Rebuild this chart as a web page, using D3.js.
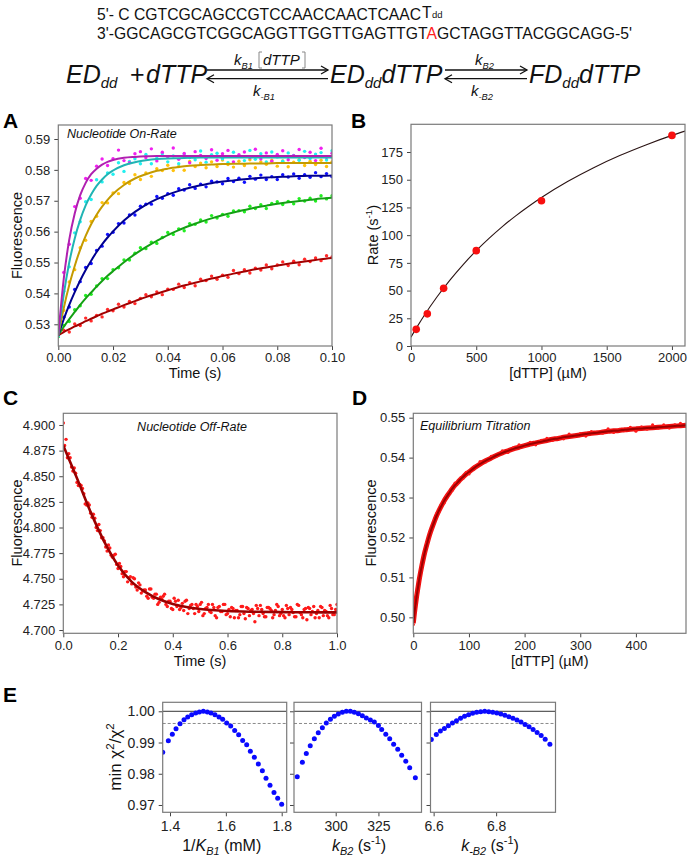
<!DOCTYPE html>
<html><head><meta charset="utf-8">
<script src="https://cdn.jsdelivr.net/npm/d3@7"></script>
<style>body{margin:0;background:#fff}svg{display:block}</style>
</head><body>
<svg id="fig" width="688" height="859"></svg>
<script>
// ================= DATA =================
// --- Panel A: nucleotide on-rate traces ---
const tA = [0,0.002,0.004,0.006,0.008,0.01,0.012,0.014,0.016,0.018,0.02,0.022,0.024,0.026,0.028,0.03,0.032,0.034,0.036,0.038,0.04,0.042,0.044,0.046,0.048,0.05,0.052,0.054,0.056,0.058,0.06,0.062,0.064,0.066,0.068,0.07,0.072,0.074,0.076,0.078,0.08,0.082,0.084,0.086,0.088,0.09,0.092,0.094,0.096,0.098,0.1];
const tAFit = [0,0.002,0.004,0.006,0.008,0.01,0.012,0.014,0.016,0.018,0.02,0.024,0.028,0.032,0.036,0.04,0.044,0.048,0.052,0.056,0.06,0.064,0.068,0.072,0.076,0.08,0.084,0.088,0.092,0.096,0.1];
const magentaPts = [0.5268,0.5468,0.5559,0.5681,0.5708,0.5772,0.5766,0.5812,0.5835,0.5814,0.5836,0.5864,0.5830,0.5823,0.5852,0.5859,0.5839,0.5868,0.5829,0.5857,0.5842,0.5871,0.5834,0.5853,0.5823,0.5859,0.5847,0.5837,0.5865,0.5831,0.5852,0.5863,0.5826,0.5849,0.5858,0.5839,0.5867,0.5835,0.5855,0.5828,0.5850,0.5862,0.5833,0.5846,0.5866,0.5840,0.5857,0.5830,0.5870,0.5841,0.5854];
const cyanPts = [0.5263,0.5407,0.5486,0.5596,0.5632,0.5697,0.5704,0.5768,0.5761,0.5790,0.5786,0.5823,0.5795,0.5827,0.5836,0.5820,0.5850,0.5820,0.5838,0.5852,0.5826,0.5845,0.5820,0.5851,0.5840,0.5833,0.5861,0.5825,0.5849,0.5854,0.5836,0.5823,0.5857,0.5845,0.5830,0.5863,0.5834,0.5852,0.5826,0.5858,0.5842,0.5828,0.5855,0.5847,0.5831,0.5860,0.5837,0.5851,0.5856,0.5832,0.5862];
const orangePts = [0.5266,0.5345,0.5437,0.5477,0.5548,0.5572,0.5633,0.5650,0.5694,0.5693,0.5725,0.5723,0.5759,0.5756,0.5784,0.5769,0.5790,0.5779,0.5804,0.5798,0.5815,0.5798,0.5811,0.5799,0.5827,0.5811,0.5822,0.5807,0.5826,0.5811,0.5832,0.5817,0.5809,0.5828,0.5814,0.5833,0.5807,0.5826,0.5818,0.5831,0.5812,0.5829,0.5810,0.5825,0.5833,0.5814,0.5828,0.5817,0.5831,0.5811,0.5826];
const bluePts = [0.5264,0.5323,0.5356,0.5413,0.5438,0.5484,0.5497,0.5539,0.5553,0.5591,0.5598,0.5626,0.5628,0.5654,0.5654,0.5682,0.5689,0.5689,0.5714,0.5708,0.5723,0.5718,0.5739,0.5735,0.5752,0.5740,0.5754,0.5745,0.5763,0.5761,0.5755,0.5772,0.5762,0.5773,0.5760,0.5779,0.5770,0.5783,0.5769,0.5778,0.5769,0.5784,0.5777,0.5787,0.5773,0.5784,0.5776,0.5791,0.5778,0.5788,0.5778];
const greenPts = [0.5260,0.5296,0.5309,0.5347,0.5360,0.5393,0.5397,0.5424,0.5448,0.5448,0.5477,0.5483,0.5508,0.5508,0.5530,0.5548,0.5545,0.5566,0.5562,0.5581,0.5597,0.5591,0.5609,0.5603,0.5626,0.5624,0.5638,0.5631,0.5652,0.5644,0.5656,0.5650,0.5667,0.5668,0.5664,0.5682,0.5675,0.5687,0.5675,0.5691,0.5697,0.5688,0.5698,0.5690,0.5707,0.5699,0.5708,0.5699,0.5716,0.5706,0.5716];
const redPts = [0.5262,0.5281,0.5275,0.5301,0.5296,0.5320,0.5311,0.5329,0.5324,0.5348,0.5344,0.5365,0.5356,0.5374,0.5367,0.5384,0.5396,0.5389,0.5405,0.5396,0.5414,0.5413,0.5430,0.5419,0.5435,0.5425,0.5446,0.5442,0.5456,0.5446,0.5459,0.5452,0.5474,0.5464,0.5477,0.5466,0.5482,0.5476,0.5492,0.5480,0.5492,0.5502,0.5490,0.5504,0.5493,0.5511,0.5503,0.5515,0.5506,0.5522,0.5518];
const magentaFit = [0.5265,0.5448,0.5574,0.5659,0.5718,0.5758,0.5786,0.5804,0.5817,0.5826,0.5832,0.5839,0.5842,0.5844,0.5845,0.5845,0.5845,0.5845,0.5845,0.5845,0.5845,0.5845,0.5845,0.5845,0.5845,0.5845,0.5845,0.5845,0.5845,0.5845,0.5845];
const cyanFit = [0.5265,0.5397,0.5500,0.5578,0.5638,0.5685,0.5720,0.5748,0.5769,0.5786,0.5798,0.5815,0.5825,0.5831,0.5835,0.5837,0.5838,0.5839,0.5840,0.5840,0.5840,0.5840,0.5840,0.5840,0.5840,0.5840,0.5840,0.5840,0.5840,0.5840,0.5840];
const orangeFit = [0.5265,0.5353,0.5427,0.5489,0.5542,0.5586,0.5624,0.5655,0.5681,0.5703,0.5722,0.5751,0.5772,0.5786,0.5797,0.5804,0.5809,0.5813,0.5816,0.5817,0.5819,0.5820,0.5820,0.5821,0.5821,0.5822,0.5822,0.5822,0.5822,0.5822,0.5822];
const blueFit = [0.5265,0.5317,0.5363,0.5404,0.5442,0.5476,0.5506,0.5534,0.5559,0.5581,0.5601,0.5636,0.5664,0.5687,0.5705,0.5720,0.5732,0.5742,0.5750,0.5757,0.5762,0.5766,0.5770,0.5773,0.5775,0.5777,0.5778,0.5780,0.5781,0.5781,0.5782];
const greenFit = [0.5265,0.5292,0.5317,0.5340,0.5363,0.5384,0.5403,0.5422,0.5440,0.5457,0.5472,0.5501,0.5527,0.5550,0.5570,0.5589,0.5605,0.5619,0.5632,0.5643,0.5653,0.5662,0.5670,0.5678,0.5684,0.5690,0.5695,0.5699,0.5703,0.5707,0.5710];
const redFit = [0.5265,0.5275,0.5284,0.5293,0.5301,0.5310,0.5318,0.5326,0.5334,0.5341,0.5348,0.5362,0.5375,0.5388,0.5399,0.5410,0.5421,0.5430,0.5439,0.5448,0.5456,0.5464,0.5471,0.5478,0.5484,0.5490,0.5496,0.5501,0.5506,0.5511,0.5515];
const aTicksX = [0,0.02,0.04,0.06,0.08,0.1];
const aTicksY = [0.53,0.54,0.55,0.56,0.57,0.58,0.59];

// --- Panel B: rate vs [dTTP] ---
const bConc = [40,125,250,500,1000,2000];
const bRate = [15,29,52,86,131,190];
const bCurveX = [0,50,100,200,300,400,500,600,700,800,900,1000,1200,1400,1600,1800,2000,2100];
const bCurveY = [8,17.9,27.3,44.4,59.7,73.5,86.0,97.3,107.7,117.2,125.9,134.0,148.4,160.9,171.8,181.4,190.0,193.9];
const bTicksX = [0,500,1000,1500,2000];
const bTicksY = [0,25,50,75,100,125,150,175];

// --- Panel C: nucleotide off-rate ---
const tC = [0,0.01,0.02,0.03,0.04,0.05,0.06,0.07,0.08,0.09,0.1,0.11,0.12,0.13,0.14,0.15,0.16,0.17,0.18,0.19,0.2,0.21,0.22,0.23,0.24,0.25,0.26,0.27,0.28,0.29,0.3,0.31,0.32,0.33,0.34,0.35,0.36,0.37,0.38,0.39,0.4,0.41,0.42,0.43,0.44,0.45,0.46,0.47,0.48,0.49,0.5,0.51,0.52,0.53,0.54,0.55,0.56,0.57,0.58,0.59,0.6,0.61,0.62,0.63,0.64,0.65,0.66,0.67,0.68,0.69,0.7,0.71,0.72,0.73,0.74,0.75,0.76,0.77,0.78,0.79,0.8,0.81,0.82,0.83,0.84,0.85,0.86,0.87,0.88,0.89,0.9,0.91,0.92,0.93,0.94,0.95,0.96,0.97,0.98,0.99,1];
const cPts = [4.902,4.886,4.872,4.859,4.858,4.844,4.842,4.838,4.823,4.824,4.814,4.813,4.800,4.803,4.790,4.787,4.777,4.780,4.771,4.774,4.760,4.762,4.752,4.757,4.751,4.745,4.750,4.739,4.744,4.738,4.739,4.731,4.740,4.731,4.735,4.727,4.730,4.735,4.723,4.728,4.720,4.728,4.729,4.722,4.719,4.729,4.721,4.725,4.716,4.723,4.725,4.714,4.721,4.725,4.717,4.722,4.712,4.723,4.718,4.725,4.716,4.713,4.721,4.719,4.712,4.723,4.716,4.722,4.714,4.720,4.708,4.721,4.724,4.716,4.713,4.722,4.719,4.715,4.725,4.714,4.720,4.712,4.721,4.722,4.717,4.713,4.724,4.715,4.720,4.710,4.721,4.718,4.712,4.719,4.723,4.714,4.718,4.712,4.721,4.715,4.725];
const tC2 = [0.005,0.015,0.025,0.035,0.045,0.055,0.065,0.075,0.085,0.095,0.105,0.115,0.125,0.135,0.145,0.155,0.165,0.175,0.185,0.195,0.205,0.215,0.225,0.235,0.245,0.255,0.265,0.275,0.285,0.295,0.305,0.315,0.325,0.335,0.345,0.355,0.365,0.375,0.385,0.395,0.405,0.415,0.425,0.435,0.445,0.455,0.465,0.475,0.485,0.495,0.505,0.515,0.525,0.535,0.545,0.555,0.565,0.575,0.585,0.595,0.605,0.615,0.625,0.635,0.645,0.655,0.665,0.675,0.685,0.695,0.705,0.715,0.725,0.735,0.745,0.755,0.765,0.775,0.785,0.795,0.805,0.815,0.825,0.835,0.845,0.855,0.865,0.875,0.885,0.895,0.905,0.915,0.925,0.935,0.945,0.955,0.965,0.975,0.985,0.995];
const cPts2 = [4.880,4.868,4.868,4.855,4.853,4.841,4.841,4.833,4.822,4.822,4.810,4.809,4.797,4.797,4.790,4.781,4.783,4.773,4.773,4.764,4.765,4.755,4.757,4.747,4.752,4.751,4.742,4.746,4.736,4.739,4.733,4.740,4.732,4.735,4.725,4.732,4.733,4.725,4.728,4.721,4.731,4.723,4.720,4.726,4.728,4.716,4.724,4.721,4.725,4.718,4.727,4.716,4.722,4.718,4.725,4.714,4.722,4.718,4.725,4.715,4.720,4.722,4.712,4.719,4.715,4.723,4.711,4.721,4.719,4.716,4.724,4.714,4.720,4.713,4.722,4.721,4.712,4.719,4.723,4.716,4.714,4.724,4.715,4.720,4.713,4.725,4.717,4.712,4.721,4.722,4.715,4.723,4.716,4.712,4.722,4.719,4.714,4.724,4.715,4.720];
const cFitT = [0,0.05,0.1,0.15,0.2,0.25,0.3,0.35,0.4,0.45,0.5,0.6,0.7,0.8,0.9,1.0];
const cFitY = [4.880,4.848,4.815,4.786,4.763,4.747,4.737,4.730,4.7255,4.7225,4.7205,4.7185,4.7178,4.7175,4.7173,4.7172];
const cTicksX = [0,0.2,0.4,0.6,0.8,1.0];
const cTicksY = [4.700,4.725,4.750,4.775,4.800,4.825,4.850,4.875,4.900];

// --- Panel D: equilibrium titration ---
const dConc = [0,2,4,6,8,10,12,15,18,21,24,27,30,34,38,42,46,50,55,60,65,70,75,80,85,90,95,100,110,120,130,140,150,160,170,180,190,200,210,220,230,240,250,260,270,280,290,300,310,320,330,340,350,360,370,380,390,400,410,420,430,440,450,460,470,480,490];
const dPts = [0.4982,0.5014,0.5030,0.5058,0.5067,0.5092,0.5100,0.5129,0.5151,0.5162,0.5186,0.5194,0.5213,0.5222,0.5243,0.5260,0.5264,0.5282,0.5286,0.5305,0.5313,0.5318,0.5336,0.5336,0.5349,0.5349,0.5363,0.5359,0.5377,0.5390,0.5389,0.5403,0.5404,0.5417,0.5413,0.5425,0.5432,0.5428,0.5438,0.5432,0.5443,0.5448,0.5443,0.5450,0.5447,0.5459,0.5453,0.5460,0.5454,0.5465,0.5464,0.5461,0.5472,0.5463,0.5471,0.5468,0.5476,0.5466,0.5477,0.5471,0.5482,0.5474,0.5482,0.5474,0.5482,0.5486,0.5478];
const dFit = [0.4985,0.5010,0.5032,0.5053,0.5071,0.5089,0.5105,0.5127,0.5147,0.5165,0.5181,0.5196,0.5210,0.5226,0.5241,0.5255,0.5267,0.5278,0.5291,0.5302,0.5312,0.5322,0.5331,0.5338,0.5346,0.5352,0.5359,0.5364,0.5375,0.5384,0.5392,0.5399,0.5406,0.5412,0.5417,0.5422,0.5426,0.5430,0.5434,0.5437,0.5440,0.5443,0.5446,0.5448,0.5451,0.5453,0.5455,0.5457,0.5459,0.5461,0.5462,0.5464,0.5466,0.5467,0.5468,0.5470,0.5471,0.5472,0.5473,0.5474,0.5475,0.5476,0.5477,0.5478,0.5479,0.5480,0.5481];
const dTicksX = [0,100,200,300,400];
const dTicksY = [0.50,0.51,0.52,0.53,0.54,0.55];

// --- Panel E: confidence contours ---
const e1x = [1.3738,1.3940,1.4083,1.4215,1.4358,1.4501,1.4633,1.4776,1.4919,1.5050,1.5194,1.5337,1.5468,1.5611,1.5755,1.5886,1.6029,1.6173,1.6316,1.6459,1.6602,1.6746,1.6877,1.7020,1.7163,1.7307,1.7438,1.7581,1.7724,1.7856,1.7999];
const e1y = [0.98688,0.99054,0.99269,0.99441,0.99602,0.99731,0.99817,0.99892,0.99946,0.99978,1.0,0.99978,0.99946,0.99892,0.99817,0.99742,0.99624,0.99527,0.99387,0.99247,0.99065,0.98925,0.98720,0.98527,0.98312,0.98097,0.97860,0.97634,0.97398,0.97215,0.97022];
const e2x = [277.5,280.5,282.8,285.1,287.5,289.8,292.2,294.5,296.9,299.2,301.5,303.9,306.2,308.6,310.9,313.3,315.6,317.9,320.3,322.6,325.0,326.9,329.3,331.6,333.9,336.3,338.6,341.0,343.3,346.6];
const e2y = [0.97903,0.98365,0.98645,0.98893,0.99118,0.99312,0.99473,0.99624,0.99742,0.99839,0.99914,0.99968,1.0,1.0,0.99968,0.99925,0.99860,0.99785,0.99720,0.99656,0.99548,0.99419,0.99269,0.99118,0.98946,0.98785,0.98591,0.98398,0.98194,0.97871];
const e3x = [6.5925,6.6086,6.6215,6.6344,6.6473,6.6602,6.6731,6.6860,6.6989,6.7118,6.7247,6.7376,6.7505,6.7634,6.7763,6.7892,6.8022,6.8151,6.8280,6.8409,6.8538,6.8667,6.8796,6.8925,6.9054,6.9183,6.9312,6.9441,6.9570,6.9720];
const e3y = [0.99097,0.99258,0.99366,0.99452,0.99538,0.99624,0.99699,0.99774,0.99839,0.99892,0.99935,0.99968,0.99989,1.0,0.99989,0.99968,0.99946,0.99914,0.99871,0.99828,0.99774,0.99720,0.99656,0.99581,0.99505,0.99419,0.99323,0.99226,0.99108,0.98946];
const eTicksY = [0.97,0.98,0.99,1.00];
const eThreshold = 0.9961;

// --- Texts ---
const seqTop = "5'- C CGTCGCAGCCGTCCAACCAACTCAAC";
const seqBotA = "3'-GGCAGCGTCGGCAGGTTGGTTGAGTTGT", seqBotMut = "A", seqBotB = "GCTAGGTTACGGCAGG-5'";

// ================= DRAWING =================
const FF = '"Liberation Sans", Arial, Helvetica, sans-serif';
const svg = d3.select('#fig').attr('font-family', FF);
let clipN = 0;

function rich(parent, x, y, parts, size, anchor) {
  const t = parent.append('text').attr('x', x).attr('y', y).attr('font-size', size)
    .attr('text-anchor', anchor || 'start').attr('fill', '#111');
  let cur = 0;
  for (const p of parts) {
    const small = p.sub || p.sup;
    const fs = small ? size * (p.scale || 0.68) : size;
    const target = p.sub ? size * (p.shift || 0.28) : p.sup ? -size * 0.42 : 0;
    const ts = t.append('tspan').attr('font-size', fs).attr('dy', target - cur).text(p.t);
    cur = target;
    if (p.i) ts.attr('font-style', 'italic');
    if (p.fill) ts.attr('fill', p.fill);
  }
  return t;
}

function panel(o) {
  const x = d3.scaleLinear().domain(o.xd).range([o.x0, o.x1]);
  const y = d3.scaleLinear().domain(o.yd).range([o.y1, o.y0]);
  const g = svg.append('g');
  const id = 'clip' + (clipN++);
  svg.append('clipPath').attr('id', id).append('rect')
    .attr('x', o.x0).attr('y', o.y0).attr('width', o.x1 - o.x0).attr('height', o.y1 - o.y0);
  const plot = g.append('g').attr('clip-path', `url(#${id})`);
  const fs = o.fs || 13;
  const xa = g.append('g').attr('transform', `translate(0,${o.y1})`)
    .call(d3.axisBottom(x).tickValues(o.xt).tickFormat(o.xf).tickSize(4).tickSizeOuter(0).tickPadding(o.xpad || 3));
  const ya = g.append('g').attr('transform', `translate(${o.x0},0)`)
    .call(d3.axisLeft(y).tickValues(o.yt).tickFormat(o.yf).tickSize(4).tickSizeOuter(0).tickPadding(4));
  [xa, ya].forEach(a => {
    a.attr('font-family', FF).attr('font-size', fs);
    a.select('.domain').remove();
    a.selectAll('line').attr('stroke', '#444');
    a.selectAll('text').attr('fill', '#222');
  });
  const box = () => g.append('rect').attr('x', o.x0).attr('y', o.y0)
    .attr('width', o.x1 - o.x0).attr('height', o.y1 - o.y0)
    .attr('fill', 'none').attr('stroke', '#7a7a7a').attr('stroke-width', 1.2);
  return { x, y, g, plot, box };
}

function ylabel(x, y, parts, size) {
  const g = svg.append('g').attr('transform', `translate(${x},${y}) rotate(-90)`);
  rich(g, 0, 0, parts, size, 'middle');
}
function letter(x, y, s) {
  svg.append('text').attr('x', x).attr('y', y).attr('font-size', 21).attr('font-weight', 'bold').attr('fill', '#000').text(s);
}

// ---------- sequences ----------
svg.append('text').attr('x', 97).attr('y', 19.5).attr('font-size', 15.7).attr('fill', '#111')
  .attr('textLength', 324).attr('lengthAdjust', 'spacing').text(seqTop);
svg.append('text').attr('x', 422).attr('y', 17.5).attr('font-size', 15.7).attr('fill', '#111').text('T');
svg.append('text').attr('x', 432).attr('y', 17.5).attr('font-size', 9.5).attr('fill', '#111').text('dd');
{
  const t = svg.append('text').attr('x', 97).attr('y', 39).attr('font-size', 15.7).attr('fill', '#111')
    .attr('textLength', 535).attr('lengthAdjust', 'spacing');
  t.append('tspan').text(seqBotA);
  t.append('tspan').attr('fill', '#ff2020').text(seqBotMut);
  t.append('tspan').text(seqBotB);
}

// ---------- reaction scheme ----------
{
  const S = 25, base = 83;
  rich(svg, 66, base, [{t: 'ED', i: 1}, {t: 'dd', i: 1, sub: 1, scale: 0.6, shift: 0.18}], S);
  svg.append('text').attr('x', 130).attr('y', base).attr('font-size', S).attr('fill', '#111').text('+');
  rich(svg, 146, base, [{t: 'dTTP', i: 1}], S);
  rich(svg, 330, base, [{t: 'ED', i: 1}, {t: 'dd', i: 1, sub: 1, scale: 0.6, shift: 0.18}, {t: 'dTTP', i: 1}], S);
  rich(svg, 529, base, [{t: 'FD', i: 1}, {t: 'dd', i: 1, sub: 1, scale: 0.6, shift: 0.18}, {t: 'dTTP', i: 1}], S);
  const arrow = (xa, xb) => {
    const ln = svg.append('g').attr('stroke', '#111').attr('stroke-width', 1.3).attr('fill', 'none');
    ln.append('line').attr('x1', xa).attr('x2', xb).attr('y1', 70).attr('y2', 70);
    ln.append('polyline').attr('points', `${xb - 7},66 ${xb},70 ${xb - 7},74`);
    ln.append('line').attr('x1', xa).attr('x2', xb).attr('y1', 78.7).attr('y2', 78.7);
    ln.append('polyline').attr('points', `${xa + 7},74.7 ${xa},78.7 ${xa + 7},82.7`);
  };
  arrow(207, 328);
  arrow(445, 527);
  rich(svg, 234, 65, [{t: 'k', i: 1}, {t: 'B1', i: 1, sub: 1, scale: 0.62}], 15);
  rich(svg, 263, 65, [{t: 'dTTP', i: 1}], 15);
  const br = svg.append('g').attr('stroke', '#888').attr('stroke-width', 1).attr('fill', 'none');
  br.append('polyline').attr('points', '262,52 259,52 259,68 262,68');
  br.append('polyline').attr('points', '302,52 305,52 305,68 302,68');
  rich(svg, 253, 96, [{t: 'k', i: 1}, {t: '-B1', i: 1, sub: 1, scale: 0.62}], 15);
  rich(svg, 475, 65, [{t: 'k', i: 1}, {t: 'B2', i: 1, sub: 1, scale: 0.62}], 15);
  rich(svg, 471, 96, [{t: 'k', i: 1}, {t: '-B2', i: 1, sub: 1, scale: 0.62}], 15);
}

// ---------- Panel A ----------
{
  const P = panel({x0: 58.3, x1: 332, y0: 125, y1: 346, xd: [0, 0.1], yd: [0.52297, 0.59453],
    xt: aTicksX, xf: d3.format('.2f'), yt: aTicksY, yf: d3.format('.2f')});
  const series = [
    {pts: redPts, fit: redFit, c: '#ff2a2a', lc: '#a30000'},
    {pts: greenPts, fit: greenFit, c: '#22ee22', lc: '#14a014'},
    {pts: bluePts, fit: blueFit, c: '#1010ff', lc: '#000090'},
    {pts: orangePts, fit: orangeFit, c: '#ffc20e', lc: '#c49a00'},
    {pts: cyanPts, fit: cyanFit, c: '#22f0f0', lc: '#20b4b4'},
    {pts: magentaPts, fit: magentaFit, c: '#f020f0', lc: '#b020b0'}
  ];
  series.forEach(s => {
    P.plot.append('g').selectAll('circle').data(tA.map((t, i) => [t, s.pts[i]])).join('circle')
      .attr('cx', d => P.x(d[0])).attr('cy', d => P.y(d[1])).attr('r', 1.7).attr('fill', s.c);
  });
  const line = d3.line().x(d => P.x(d[0])).y(d => P.y(d[1])).curve(d3.curveMonotoneX);
  series.forEach(s => {
    P.plot.append('path').attr('d', line(tAFit.map((t, i) => [t, s.fit[i]])))
      .attr('fill', 'none').attr('stroke', s.lc).attr('stroke-width', 2);
  });
  P.box();
  svg.append('text').attr('x', 67).attr('y', 138).attr('font-size', 12.5).attr('font-style', 'italic').attr('fill', '#111').text('Nucleotide On-Rate');
  rich(svg, 195, 378, [{t: 'Time (s)'}], 14.5, 'middle');
  ylabel(21.5, 235.5, [{t: 'Fluorescence'}], 14.5);
  letter(3, 128, 'A');
}

// ---------- Panel B ----------
{
  const P = panel({x0: 411, x1: 685, y0: 124.3, y1: 346, xd: [0, 2100], yd: [0, 200],
    xt: bTicksX, xf: d3.format('d'), yt: bTicksY, yf: d3.format('d')});
  const line = d3.line().x(d => P.x(d[0])).y(d => P.y(d[1])).curve(d3.curveMonotoneX);
  P.plot.append('path').attr('d', line(bCurveX.map((v, i) => [v, bCurveY[i]])))
    .attr('fill', 'none').attr('stroke', '#2b1414').attr('stroke-width', 1.1);
  P.plot.selectAll('circle.b').data(bConc.map((c, i) => [c, bRate[i]])).join('circle')
    .attr('cx', d => P.x(d[0])).attr('cy', d => P.y(d[1])).attr('r', 3.8).attr('fill', '#f80f0f');
  P.box();
  rich(svg, 548, 378, [{t: '[dTTP] (\u00b5M)'}], 14.5, 'middle');
  ylabel(378, 235, [{t: 'Rate (s'}, {t: '-1', sup: 1}, {t: ')'}], 14.5);
  letter(351, 128, 'B');
}

// ---------- Panel C ----------
{
  const P = panel({x0: 63.3, x1: 337, y0: 413.3, y1: 633.3, xd: [0, 1], yd: [4.6968, 4.9114],
    xt: cTicksX, xf: d3.format('.1f'), yt: cTicksY, yf: d3.format('.3f')});
  const pts = tC.map((t, i) => [t, cPts[i]]).concat(tC2.map((t, i) => [t, cPts2[i]]));
  P.plot.append('g').selectAll('circle').data(pts).join('circle')
    .attr('cx', d => P.x(d[0])).attr('cy', d => P.y(d[1])).attr('r', 1.7).attr('fill', '#ff1a1a');
  const line = d3.line().x(d => P.x(d[0])).y(d => P.y(d[1])).curve(d3.curveMonotoneX);
  P.plot.append('path').attr('d', line(cFitT.map((t, i) => [t, cFitY[i]])))
    .attr('fill', 'none').attr('stroke', '#9a0000').attr('stroke-width', 2.6);
  P.box();
  svg.append('text').attr('x', 192).attr('y', 431).attr('text-anchor', 'middle').attr('font-size', 12.5)
    .attr('font-style', 'italic').attr('fill', '#111').text('Nucleotide Off-Rate');
  rich(svg, 200, 665.5, [{t: 'Time (s)'}], 14.5, 'middle');
  ylabel(21.5, 523, [{t: 'Fluorescence'}], 14.5);
  letter(3, 405, 'C');
}

// ---------- Panel D ----------
{
  const P = panel({x0: 413.3, x1: 686, y0: 413.3, y1: 633.3, xd: [0, 490], yd: [0.4960, 0.5511],
    xt: dTicksX, xf: d3.format('d'), yt: dTicksY, yf: d3.format('.2f')});
  const line = d3.line().x(d => P.x(d[0])).y(d => P.y(d[1])).curve(d3.curveMonotoneX);
  const fitPts = dConc.map((c, i) => [c, dFit[i]]);
  P.plot.append('path').attr('d', line(fitPts)).attr('fill', 'none').attr('stroke', '#f01010').attr('stroke-width', 5);
  P.plot.append('g').selectAll('circle').data(dConc.map((c, i) => [c, dPts[i]])).join('circle')
    .attr('cx', d => P.x(d[0])).attr('cy', d => P.y(d[1])).attr('r', 1.6).attr('fill', '#ff1a1a');
  P.plot.append('path').attr('d', line(fitPts)).attr('fill', 'none').attr('stroke', '#9a0000').attr('stroke-width', 2);
  P.box();
  svg.append('text').attr('x', 420).attr('y', 430).attr('font-size', 12.5)
    .attr('font-style', 'italic').attr('fill', '#111').text('Equilibrium Titration');
  rich(svg, 549.7, 665.5, [{t: '[dTTP] (\u00b5M)'}], 14.5, 'middle');
  ylabel(375.5, 523, [{t: 'Fluorescence'}], 14.5);
  letter(352, 405, 'D');
}

// ---------- Panel E ----------
{
  const eCfg = [
    {x0: 162.7, x1: 286.7, xd: [1.3738, 1.8179], xt: [1.4, 1.6, 1.8], xf: d3.format('.1f'), X: e1x, Y: e1y, lab: true, cx: 221.7,
      title: [{t: '1/'}, {t: 'K', i: 1}, {t: 'B1', i: 1, sub: 1}, {t: ' (mM)'}]},
    {x0: 294, x1: 421.5, xd: [275.6, 350.2], xt: [300, 325], xf: d3.format('d'), X: e2x, Y: e2y, lab: false, cx: 359,
      title: [{t: 'k', i: 1}, {t: 'B2', i: 1, sub: 1}, {t: ' (s'}, {t: '-1', sup: 1}, {t: ')'}]},
    {x0: 430.5, x1: 555.5, xd: [6.59, 6.99], xt: [6.6, 6.8], xf: d3.format('.1f'), X: e3x, Y: e3y, lab: false, cx: 490,
      title: [{t: 'k', i: 1}, {t: '-B2', i: 1, sub: 1}, {t: ' (s'}, {t: '-1', sup: 1}, {t: ')'}]}
  ];
  eCfg.forEach(c => {
    const P = panel({x0: c.x0, x1: c.x1, y0: 702.3, y1: 812.3, xd: c.xd, yd: [0.96766, 1.00288],
      xt: c.xt, xf: c.xf, yt: eTicksY, yf: c.lab ? d3.format('.2f') : () => '', fs: 14, xpad: 5});
    P.plot.append('line').attr('x1', c.x0).attr('x2', c.x1).attr('y1', P.y(1)).attr('y2', P.y(1))
      .attr('stroke', '#333').attr('stroke-width', 1);
    P.plot.append('line').attr('x1', c.x0).attr('x2', c.x1).attr('y1', P.y(eThreshold)).attr('y2', P.y(eThreshold))
      .attr('stroke', '#8a8a8a').attr('stroke-width', 1).attr('stroke-dasharray', '3,2');
    P.plot.append('g').selectAll('circle').data(c.X.map((v, i) => [v, c.Y[i]])).join('circle')
      .attr('cx', d => P.x(d[0])).attr('cy', d => P.y(d[1])).attr('r', 2.5).attr('fill', '#0a0aff');
    P.box();
    rich(svg, c.cx, 851, c.title, 16, 'middle');
  });
  ylabel(121, 757, [{t: 'min \u03c7'}, {t: '2', sup: 1}, {t: '/\u03c7'}, {t: '2', sup: 1}], 17);
  letter(3, 702, 'E');
}
</script>
</body></html>
